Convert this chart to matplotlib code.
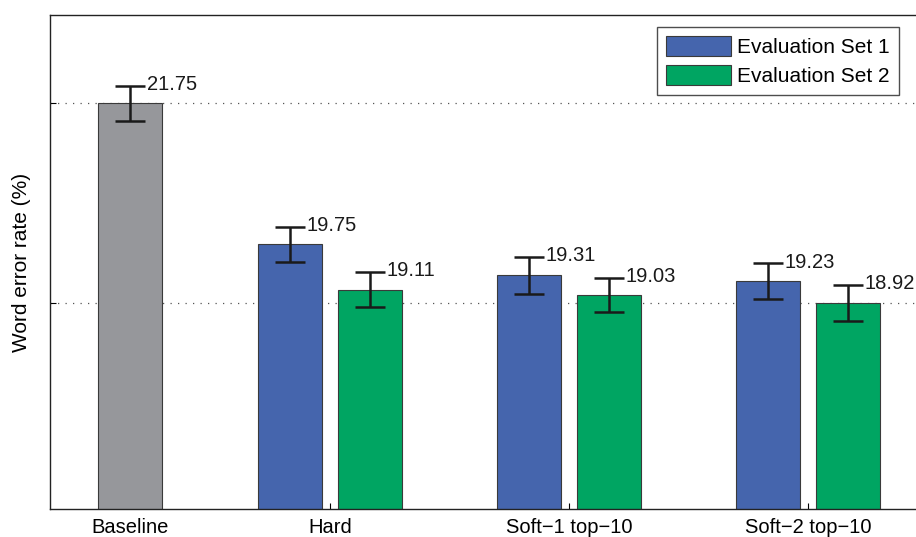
import numpy as np
import matplotlib
matplotlib.use("Agg")
import matplotlib.pyplot as plt

plt.rcParams['font.family'] = ['Liberation Sans', 'DejaVu Sans']

groups = ['Baseline', 'Hard', 'Soft\u22121 top\u221210', 'Soft\u22122 top\u221210']
group_x = [0.163, 1.0, 2.0, 3.0]

baseline_wer = 21.75
set1_wer = [19.75, 19.31, 19.23]
set2_wer = [19.11, 19.03, 18.92]
baseline_err = 0.25
set1_err = [0.25, 0.26, 0.25]
set2_err = [0.25, 0.24, 0.26]

gray = '#96979b'
blue = '#4565ad'
green = '#00a562'
edge = '#3a3a3a'

width = 0.268
offset = 0.167

fig = plt.figure(figsize=(9.16, 5.37), dpi=100)
ax = fig.add_axes([50 / 916, 28 / 537, 880 / 916, 494 / 537])

err_kw = dict(ecolor='#1a1a1a', elinewidth=1.8, capsize=11, capthick=1.8)

ax.bar(group_x[0], baseline_wer, width, color=gray, edgecolor=edge, linewidth=0.8,
       yerr=baseline_err, error_kw=err_kw, zorder=2)
xs1 = np.array(group_x[1:]) - offset
xs2 = np.array(group_x[1:]) + offset
ax.bar(xs1, set1_wer, width, color=blue, edgecolor=edge, linewidth=0.8,
       yerr=set1_err, error_kw=err_kw, label='Evaluation Set 1', zorder=2)
ax.bar(xs2, set2_wer, width, color=green, edgecolor=edge, linewidth=0.8,
       yerr=set2_err, error_kw=err_kw, label='Evaluation Set 2', zorder=2)

# value labels next to the top cap of each error bar
labels = [(group_x[0], baseline_wer, baseline_err)]
labels += list(zip(xs1, set1_wer, set1_err)) + list(zip(xs2, set2_wer, set2_err))
for x, v, e in labels:
    ax.annotate(f'{v:.2f}', (x, v + e), xytext=(12, 1), textcoords='offset points',
                va='center', ha='left', fontsize=14.5, color='#1a1a1a')

ax.set_xlim(-0.172, 3.51)
ax.set_ylim(16, 23)
ax.set_xticks(group_x)
ax.set_xticklabels(groups, fontsize=14.5)
ax.set_yticks([18.92, 21.75])
ax.set_yticklabels([])
ax.tick_params(direction='in', length=4, width=0.8, pad=6.5)
ax.yaxis.grid(True, linestyle=(0, (1, 5)), color='#555555', linewidth=0.9)
ax.set_axisbelow(True)
for s in ax.spines.values():
    s.set_linewidth(1.0)
    s.set_color('#222222')

ax.set_ylabel('Word error rate (%)', fontsize=15, labelpad=7)

leg = ax.legend(loc='upper right', bbox_to_anchor=(899 / 916, 1 - 27 / 537),
                bbox_transform=fig.transFigure, fontsize=15, frameon=True,
                fancybox=False, handlelength=3.1, handleheight=1.06,
                borderpad=0.45, labelspacing=0.38, handletextpad=0.3,
                borderaxespad=0)
leg.get_frame().set_edgecolor('#222222')
leg.get_frame().set_linewidth(1.0)

fig.savefig('out.png', dpi=100)
